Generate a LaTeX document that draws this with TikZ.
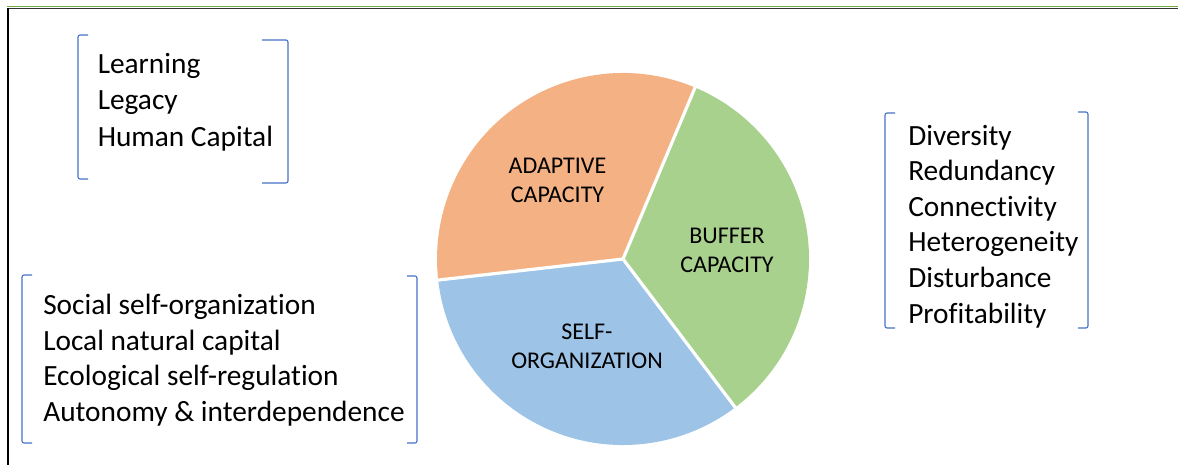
\documentclass[tikz,border=0pt]{standalone}
\usepackage{fontspec}
\setmainfont{Carlito}[Ligatures={NoCommon,NoRare,NoDiscretionary}]
\definecolor{adapt}{HTML}{F4B183}
\definecolor{buff}{HTML}{A9D18E}
\definecolor{selfo}{HTML}{9DC3E6}
\definecolor{brk}{HTML}{4472C4}
\definecolor{topgreen}{HTML}{70AD47}
\begin{document}
\begin{tikzpicture}[x=0.75pt,y=-0.75pt,
  listtext/.style={anchor=base west,inner sep=0pt,font=\fontsize{22pt}{26pt}\selectfont},
  pietext/.style={anchor=base,inner sep=0pt,font=\fontsize{18pt}{21pt}\selectfont},
  bracket/.style={draw=brk,line width=0.8pt,rounded corners=1.5pt},
  sep/.style={draw=white,line width=2.4pt}]
\useasboundingbox (0,0) rectangle (1178,465);
% frame
\draw[topgreen,line width=0.6pt] (7,6.8) -- (1178,6.8);
\draw[black!80,line width=1.2pt] (7,8.6) -- (1178,8.6);
\draw[black,line width=1.5pt] (8.3,8) -- (8.3,465);
% pie
\coordinate (c) at (623,259);
\fill[adapt] (c) -- ++(-67.2:186) arc[start angle=-67.2,end angle=-186.5,radius=186] -- cycle;
\fill[selfo] (c) -- ++(-186.5:186) arc[start angle=-186.5,end angle=-307.1,radius=186] -- cycle;
\fill[buff] (c) -- ++(-307.1:186) arc[start angle=-307.1,end angle=-427.2,radius=186] -- cycle;
\path (c) ++(-67.2:187) coordinate (e1);
\path (c) ++(-186.5:187) coordinate (e2);
\path (c) ++(-307.1:187) coordinate (e3);
\draw[sep] (c) -- (e1);
\draw[sep] (c) -- (e2);
\draw[sep] (c) -- (e3);
% pie labels
\node[pietext] (a1) at (557.5,173) {ADAPTIVE};
\node[pietext] (a2) at (557.5,202) {CAPACITY};
\node[pietext] (b1) at (727,243) {BUFFER};
\node[pietext] (b2) at (727,272) {CAPACITY};
\node[pietext] (s1) at (587,339) {SELF-};
\node[pietext] (s2) at (587,368) {ORGANIZATION};
% box 1
\draw[bracket] (88,35) -- (78,35) -- (78,179) -- (88,179);
\draw[bracket] (262,40) -- (288,40) -- (288,183) -- (262,183);
\node[listtext] (t11) at (97.5,73) {Learning};
\node[listtext] (t12) at (97.5,109.5) {Legacy};
\node[listtext] (t13) at (97.5,146) {Human Capital};
% box 2
\draw[bracket] (895,113) -- (885,113) -- (885,328) -- (895,328);
\draw[bracket] (1078,112) -- (1088,112) -- (1088,328) -- (1078,328);
\node[listtext] (t21) at (908,145) {Diversity};
\node[listtext] (t22) at (908,180.6) {Redundancy};
\node[listtext] (t23) at (908,216.2) {Connectivity};
\node[listtext] (t24) at (908,251.8) {Heterogeneity};
\node[listtext] (t25) at (908,287.4) {Disturbance};
\node[listtext] (t26) at (908,323) {Profitability};
% box 3
\draw[bracket] (32,275) -- (22,275) -- (22,443) -- (32,443);
\draw[bracket] (407,276) -- (417,276) -- (417,443) -- (407,443);
\node[listtext] (t31) at (43,314.5) {Social self-organization};
\node[listtext] (t32) at (43,350) {Local natural capital};
\node[listtext] (t33) at (43,385.5) {Ecological self-regulation};
\node[listtext] (t34) at (43,421) {Autonomy \& interdependence};
\end{tikzpicture}
\end{document}
